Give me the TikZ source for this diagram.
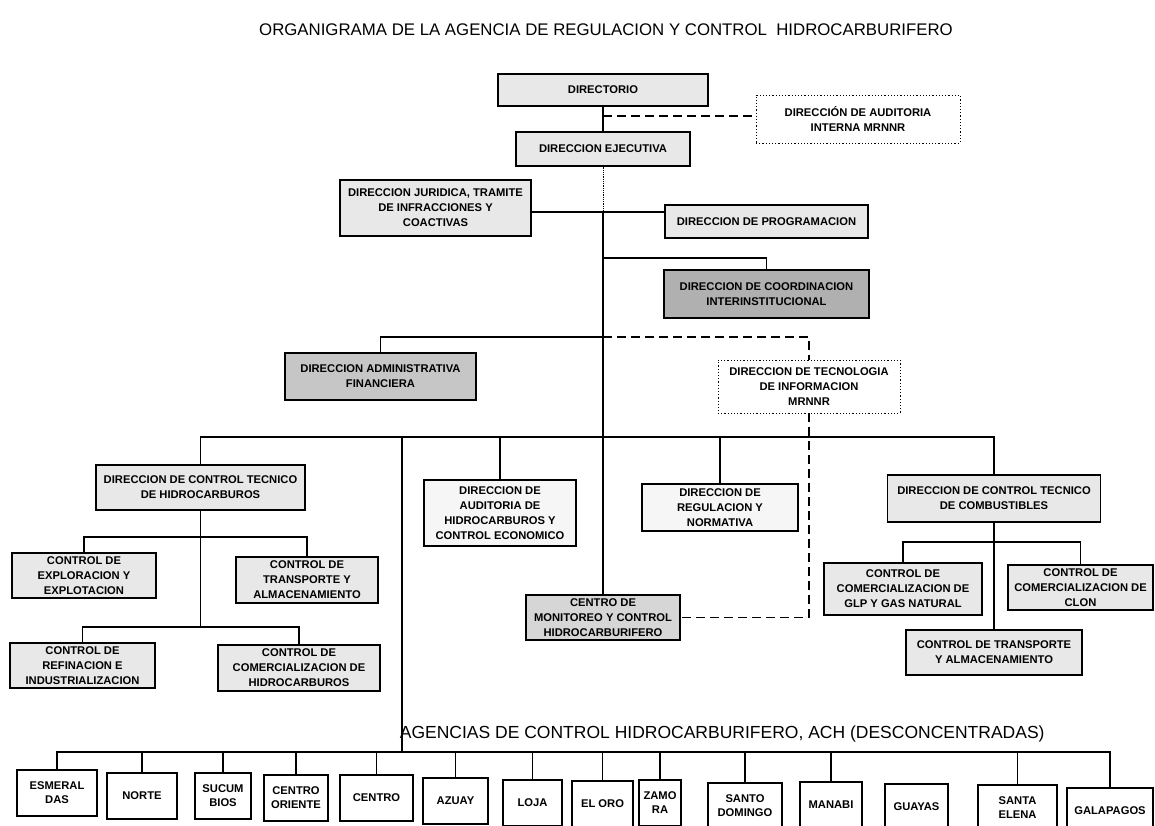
\documentclass[tikz,border=0pt]{standalone}
\usepackage{fontspec}
\setmainfont{Liberation Sans}
\usetikzlibrary{calc}

\begin{document}
\begin{tikzpicture}[x=1pt,y=-1pt,line width=1.1pt,
    box/.style={draw,line width=1.2pt,fill=gray!18,align=center,inner sep=1pt,
      font=\fontsize{11.2}{15}\selectfont\bfseries},
    palebox/.style={box,fill=gray!7},
    midbox/.style={box,fill=gray!32},
    darkbox/.style={box,fill=gray!62},
    dotbox/.style={box,fill=white,dotted,line width=0.9pt},
    agency/.style={box,fill=white,minimum height=46pt,
      font=\fontsize{11.2}{14}\selectfont\bfseries},
    dashline/.style={dash pattern=on 9pt off 5pt,line width=1.4pt}]
  \fill[white] (0,0) rectangle (1155,826);
  \useasboundingbox (0,0) rectangle (1155,826);

  % title
  \node[font=\fontsize{16.8}{20}\selectfont] (title) at (606,30)
    {ORGANIGRAMA DE LA AGENCIA DE REGULACION Y CONTROL\ \ HIDROCARBURIFERO};

  % top levels
  \node[box,minimum width=210pt,minimum height=32pt] (dir) at (603,90) {DIRECTORIO};
  \node[dotbox,minimum width=204pt,minimum height=48pt] (audint) at (858,119)
    {DIRECCIÓN DE AUDITORIA\\INTERNA MRNNR};
  \node[box,minimum width=174pt,minimum height=34pt] (ejec) at (603,149) {DIRECCION EJECUTIVA};
  \node[box,minimum width=191pt,minimum height=56pt] (jur) at (435.5,208)
    {DIRECCION JURIDICA, TRAMITE\\DE INFRACCIONES Y\\COACTIVAS};
  \node[box,minimum width=203pt,minimum height=33pt] (prog) at (766.5,221.5)
    {DIRECCION DE PROGRAMACION};
  \node[darkbox,minimum width=205pt,minimum height=48pt] (coord) at (766.5,294)
    {DIRECCION DE COORDINACION\\INTERINSTITUCIONAL};
  \node[darkbox,fill=gray!45,minimum width=191pt,minimum height=47pt] (admin) at (380.5,376.5)
    {DIRECCION ADMINISTRATIVA\\FINANCIERA};
  \node[dotbox,minimum width=182pt,minimum height=53pt] (tec) at (809,386.5)
    {DIRECCION DE TECNOLOGIA\\DE INFORMACION\\MRNNR};

  % hidrocarburos
  \node[box,minimum width=209pt,minimum height=45pt] (cthid) at (200.5,487.5)
    {DIRECCION DE CONTROL TECNICO\\DE HIDROCARBUROS};
  \node[box,minimum width=144pt,minimum height=45pt] (expl) at (84,575.5)
    {CONTROL DE\\EXPLORACION Y\\EXPLOTACION};
  \node[box,minimum width=142pt,minimum height=46pt] (transh) at (307,580)
    {CONTROL DE\\TRANSPORTE Y\\ALMACENAMIENTO};
  \node[box,minimum width=145pt,minimum height=45pt] (refi) at (82.5,665.5)
    {CONTROL DE\\REFINACION E\\INDUSTRIALIZACION};
  \node[box,minimum width=162pt,minimum height=46pt] (comh) at (299,668)
    {CONTROL DE\\COMERCIALIZACION DE\\HIDROCARBUROS};

  % centro
  \node[palebox,minimum width=152pt,minimum height=66pt] (audhid) at (500,513)
    {DIRECCION DE\\AUDITORIA DE\\HIDROCARBUROS Y\\CONTROL ECONOMICO};
  \node[palebox,minimum width=156pt,minimum height=47pt] (regu) at (720,507.5)
    {DIRECCION DE\\REGULACION Y\\NORMATIVA};
  \node[midbox,minimum width=154pt,minimum height=45pt] (monit) at (603,617.5)
    {CENTRO DE\\MONITOREO Y CONTROL\\HIDROCARBURIFERO};

  % combustibles
  \node[box,minimum width=213pt,minimum height=47pt] (ctcomb) at (994,498.5)
    {DIRECCION DE CONTROL TECNICO\\DE COMBUSTIBLES};
  \node[box,minimum width=158pt,minimum height=52pt] (glp) at (903,589)
    {CONTROL DE\\COMERCIALIZACION DE\\GLP Y GAS NATURAL};
  \node[box,minimum width=145pt,minimum height=45pt] (clon) at (1080.5,587.5)
    {CONTROL DE\\COMERCIALIZACION DE\\CLON};
  \node[box,minimum width=176pt,minimum height=45pt] (transc) at (994,652.5)
    {CONTROL DE TRANSPORTE\\Y ALMACENAMIENTO};

  % agencias
  \node[anchor=west,font=\fontsize{17.5}{20}\selectfont] (agtitle) at (396,734)
    {AGENCIAS DE CONTROL HIDROCARBURIFERO, ACH (DESCONCENTRADAS)};
  \node[agency,minimum width=80pt] (esm) at (57,793) {ESMERAL\\DAS};
  \node[agency,minimum width=70pt] (nor) at (142,796) {NORTE};
  \node[agency,minimum width=56pt] (suc) at (223,796) {SUCUM\\BIOS};
  \node[agency,minimum width=64pt] (cor) at (296,798) {CENTRO\\ORIENTE};
  \node[agency,minimum width=73pt] (cen) at (376.5,798) {CENTRO};
  \node[agency,minimum width=65pt] (azu) at (455.5,801) {AZUAY};
  \node[agency,minimum width=59pt] (loj) at (532.5,803) {LOJA};
  \node[agency,minimum width=61pt] (oro) at (602.5,804) {EL ORO};
  \node[agency,minimum width=42pt] (zam) at (660,803) {ZAMO\\RA};
  \node[agency,minimum width=74pt] (sdo) at (745,806) {SANTO\\DOMINGO};
  \node[agency,minimum width=62pt] (man) at (831,805) {MANABI};
  \node[agency,minimum width=63pt] (gua) at (916.5,807) {GUAYAS};
  \node[agency,minimum width=79pt] (sel) at (1017.5,808) {SANTA\\ELENA};
  \node[agency,minimum width=86pt] (gal) at (1110,811) {GALAPAGOS};

  % connectors
  \coordinate (dx) at (603,116);
  \coordinate (jx) at (603,212);
  \coordinate (cx) at (603,258);
  \coordinate (ax) at (603,337);
  \coordinate (mx) at (603,437);
  \coordinate (agbus) at (402,752);
  \draw (dir.south) -- (ejec.north);
  \draw[dashline] (dx) -- (dx -| audint.west);
  \draw[densely dotted,line width=0.8pt] (ejec.south) -- (jx);
  \draw (jx) -- (monit.north);
  \draw (jx -| jur.east) -- (jx -| prog.west);
  \draw (cx) -| (coord.north);
  \draw (ax) -| (admin.north);
  \draw[dashline] (ax) -| (tec.north);
  \draw[dashline] (tec.south) |- (monit.east);
  \draw (cthid.north) |- (mx) -| (ctcomb.north);
  \draw (audhid.north) -- (audhid.north |- mx);
  \draw (regu.north) -- (regu.north |- mx);
  \draw (mx -| agbus) -- (agbus);

  \coordinate (hx1) at (200.5,537);
  \coordinate (hx2) at (200.5,627);
  \draw (cthid.south) -- (hx2);
  \draw (expl.north) |- (hx1) -| (transh.north);
  \draw (refi.north) |- (hx2) -| (comh.north);

  \coordinate (kx) at (994,542);
  \draw (ctcomb.south) -- (transc.north);
  \draw (glp.north) |- (kx) -| (clon.north);

  \draw (esm.north) |- (agbus) -| (gal.north);
  \foreach \n in {nor,suc,cor,cen,azu,loj,oro,zam,sdo,man,sel}
    \draw (\n.north) -- (\n.north |- agbus);
\end{tikzpicture}
\end{document}
